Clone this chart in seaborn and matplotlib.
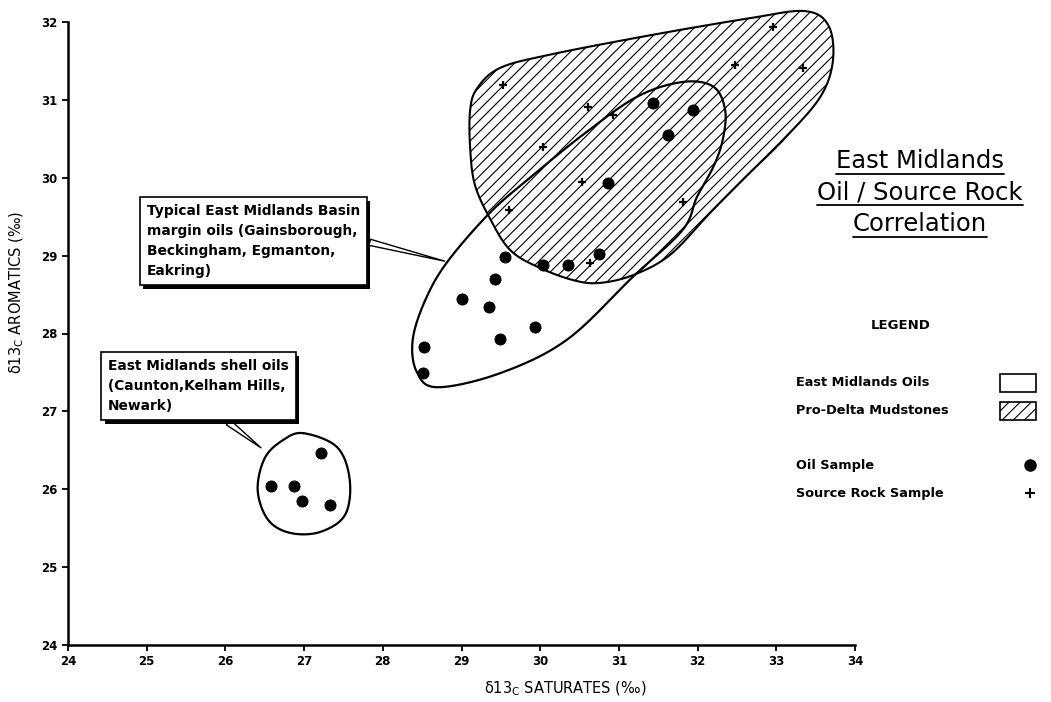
import numpy as np
import matplotlib
matplotlib.use("Agg")
import matplotlib.pyplot as plt
import matplotlib.patheffects as pe
from matplotlib.patches import Polygon, Rectangle
from matplotlib.lines import Line2D
import seaborn as sns

# --- values (per mil) ---
oil_sat = [26.58, 26.87, 27.21, 26.97, 27.33,
           28.51, 28.52, 29.01, 29.35, 29.43, 29.49, 29.55, 29.93, 30.04,
           30.35, 30.75, 30.86, 31.43, 31.62, 31.94]
oil_aro = [26.04, 26.04, 26.47, 25.85, 25.80,
           27.49, 27.83, 28.44, 28.34, 28.70, 27.93, 28.98, 28.08, 28.88,
           28.88, 29.02, 29.93, 30.96, 30.55, 30.87]

src_sat = [29.53, 30.61, 30.93, 30.04, 30.53, 29.60, 31.81, 32.96, 32.48, 33.34, 30.63]
src_aro = [31.19, 30.91, 30.81, 30.40, 29.95, 29.59, 29.69, 31.94, 31.45, 31.41, 28.91]

# outlines of the fields (hand drawn on the original)
oils_field_x = [31.81, 32.20, 32.35, 32.32, 32.20, 31.99, 31.81, 31.18, 30.34, 29.49,
                28.69, 28.43, 28.38, 28.54, 28.82, 29.36, 29.87, 30.54, 31.23]
oils_field_y = [31.23, 31.17, 30.87, 30.49, 30.14, 29.75, 29.33, 28.73, 27.92, 27.49,
                27.31, 27.51, 27.92, 28.43, 28.92, 29.55, 30.00, 30.55, 31.04]

prodelta_x = [29.11, 29.20, 29.49, 30.12, 31.40, 32.67, 33.36, 33.66, 33.72, 33.56, 33.11,
              32.60, 32.16, 31.65, 31.18, 30.76, 30.44, 30.00, 29.62, 29.36, 29.17, 29.11]
prodelta_y = [30.87, 31.15, 31.41, 31.58, 31.83, 32.05, 32.14, 31.96, 31.51, 31.04, 30.51,
              30.00, 29.55, 29.01, 28.75, 28.65, 28.68, 28.84, 29.07, 29.48, 29.91, 30.38]

shell_x = [26.99, 27.42, 27.58, 27.52, 27.20, 26.82, 26.54, 26.41, 26.50, 26.73]
shell_y = [26.72, 26.54, 26.12, 25.67, 25.45, 25.44, 25.61, 25.99, 26.40, 26.63]

sns.set_style("white")
plt.rcParams['font.family'] = ['DejaVu Sans']
plt.rcParams.update({
    'hatch.linewidth': 0.8,
    'mathtext.default': 'regular',
    'text.color': 'black',
    'axes.labelcolor': 'black',
    'xtick.color': 'black',
    'ytick.color': 'black',
})


def smooth_closed(xs, ys, n=24):
    """Catmull-Rom spline through the outline points, closed."""
    p = np.column_stack([xs, ys])
    k = len(p)
    t = np.linspace(0, 1, n, endpoint=False)[:, None]
    segs = []
    for i in range(k):
        p0, p1, p2, p3 = p[i - 1], p[i], p[(i + 1) % k], p[(i + 2) % k]
        seg = 0.5 * ((2 * p1) + (-p0 + p2) * t
                     + (2 * p0 - 5 * p1 + 4 * p2 - p3) * t ** 2
                     + (-p0 + 3 * p1 - 3 * p2 + p3) * t ** 3)
        segs.append(seg)
    out = np.vstack(segs)
    return np.vstack([out, out[:1]])


fig = plt.figure(figsize=(10.51, 7.02), dpi=100)
ax = fig.add_axes([68 / 1051, 1 - 645 / 702, 787 / 1051, 623 / 702])

# Pro-delta mudstones field (hatched)
pd_curve = smooth_closed(prodelta_x, prodelta_y)
ax.add_patch(Polygon(pd_curve, closed=True, facecolor='white', edgecolor='black',
                     hatch='///', lw=1.5, zorder=1, clip_on=False))

# East Midlands oils field + shell oils field
oil_curve = smooth_closed(oils_field_x, oils_field_y)
ax.plot(oil_curve[:, 0], oil_curve[:, 1], color='black', lw=1.6, zorder=2)
sh_curve = smooth_closed(shell_x, shell_y)
ax.plot(sh_curve[:, 0], sh_curve[:, 1], color='black', lw=1.6, zorder=2)

# samples
sns.scatterplot(x=oil_sat, y=oil_aro, color='black', s=64, marker='o',
                edgecolor='black', ax=ax, zorder=3)
sns.scatterplot(x=src_sat, y=src_aro, color='black', s=40, marker='+',
                linewidth=1.6, ax=ax, zorder=3, clip_on=False)

ax.set_xlim(24, 34)
ax.set_ylim(24, 32)
ax.set_xticks(range(24, 35))
ax.set_yticks(range(24, 33))
sns.despine(ax=ax)
for s in ['left', 'bottom']:
    ax.spines[s].set_linewidth(1.8)
    ax.spines[s].set_color('black')
ax.tick_params(direction='out', length=4, width=1.3, labelsize=8.5, colors='black',
               left=True, bottom=True)
for lab in ax.get_xticklabels() + ax.get_yticklabels():
    lab.set_fontweight('bold')

ax.set_xlabel('δ13$_{C}$ SATURATES (‰)', fontsize=10.5)
ax.set_ylabel('δ13$_{C}$ AROMATICS (‰)', fontsize=10.5)
ax.xaxis.set_label_coords((565 - 68) / 787, -(680 - 645) / 623)
ax.yaxis.set_label_coords(-(68 - 26) / 787, (645 - 292) / 623)

# callout boxes
shadow = [pe.SimplePatchShadow(offset=(2.5, -2.5), shadow_rgbFace='black', alpha=1.0),
          pe.Normal()]
box_kw = dict(boxstyle='square,pad=0.5', facecolor='white', edgecolor='black', lw=1.2)

t1 = ax.text(25.0, 29.66, 'Typical East Midlands Basin\nmargin oils (Gainsborough,\n'
             'Beckingham, Egmanton,\nEakring)', ha='left', va='top', fontsize=9.9,
             fontweight='bold', linespacing=1.55, bbox=box_kw, zorder=5)
t1.get_bbox_patch().set_path_effects(shadow)
t2 = ax.text(24.51, 27.67, 'East Midlands shell oils\n(Caunton,Kelham Hills,\nNewark)',
             ha='left', va='top', fontsize=9.9, fontweight='bold', linespacing=1.55,
             bbox=box_kw, zorder=5)
t2.get_bbox_patch().set_path_effects(shadow)

wedge = dict(arrowstyle='wedge,tail_width=0.45,shrink_factor=0.5', facecolor='white',
             edgecolor='black', lw=1.0)
ax.annotate('', xy=(28.82, 28.92), xytext=(27.80, 29.18), arrowprops=wedge, zorder=4)
ax.annotate('', xy=(26.48, 26.51), xytext=(26.01, 26.88), arrowprops=wedge, zorder=4)

# title block, underlined
title_lines = ['East Midlands', 'Oil / Source Rock', 'Correlation']
title_y = [161, 192, 224]
titles = []
for txt, yy in zip(title_lines, title_y):
    titles.append(fig.text(920 / 1051, 1 - yy / 702, txt, ha='center', va='center',
                           fontsize=17.5))

# legend drawn by hand
fig.text(901 / 1051, 1 - 325 / 702, 'LEGEND', ha='center', va='center',
         fontsize=9.5, fontweight='bold')
leg_labels = ['East Midlands Oils', 'Pro-Delta Mudstones', 'Oil Sample', 'Source Rock Sample']
leg_y = [383, 411, 465, 493]
for txt, yy in zip(leg_labels, leg_y):
    fig.text(796 / 1051, 1 - yy / 702, txt, ha='left', va='center', fontsize=9.3,
             fontweight='bold')
fig.add_artist(Rectangle((1000 / 1051, 1 - 392 / 702), 36 / 1051, 18 / 702,
                         transform=fig.transFigure, facecolor='white', edgecolor='black', lw=1.2))
fig.add_artist(Rectangle((1000 / 1051, 1 - 420 / 702), 36 / 1051, 18 / 702,
                         transform=fig.transFigure, facecolor='white', edgecolor='black',
                         hatch='///', lw=1.2))
fig.add_artist(Line2D([1030 / 1051], [1 - 465 / 702], marker='o', markersize=8,
                      color='black', transform=fig.transFigure))
fig.add_artist(Line2D([1030 / 1051], [1 - 493 / 702], marker='+', markersize=7,
                      markeredgewidth=1.5, color='black', transform=fig.transFigure))

# underline the title lines
fig.canvas.draw()
renderer = fig.canvas.get_renderer()
inv = fig.transFigure.inverted()
for t in titles:
    bb = t.get_window_extent(renderer)
    (x0, y0), (x1, _) = inv.transform([(bb.x0, bb.y0 - 1), (bb.x1, bb.y0)])
    fig.add_artist(Line2D([x0, x1], [y0, y0], color='black', lw=1.3,
                          transform=fig.transFigure))

fig.savefig('out.png', dpi=100)
